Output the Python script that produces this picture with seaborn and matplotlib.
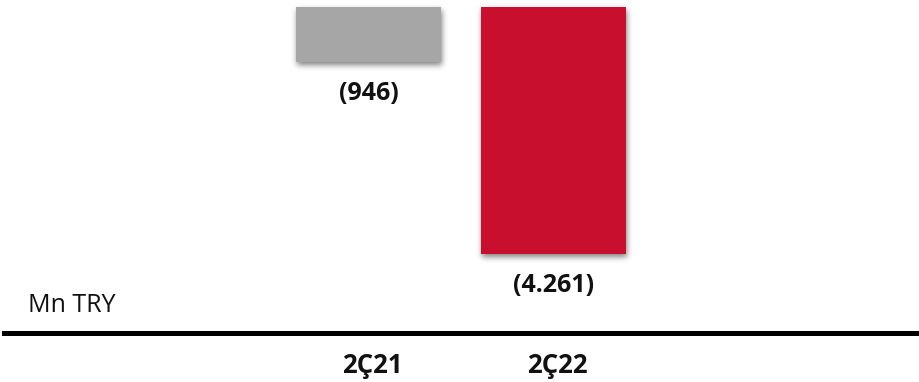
import numpy as np
import pandas as pd
import matplotlib
matplotlib.use("Agg")
import matplotlib.pyplot as plt
import matplotlib.transforms as mtransforms
import seaborn as sns

# Net result per period (million TRY)
periods = ["2Ç21", "2Ç22"]
values = [-946, -4261]
bar_colors = ["#A6A6A6", "#C8102E"]
unit_label = "Mn TRY"

sns.set_theme(style="white")
plt.rcParams["font.family"] = ["Open Sans", "DejaVu Sans"]

W, H, DPI = 919, 382, 100
fig = plt.figure(figsize=(W / DPI, H / DPI), dpi=DPI)
fig.patch.set_facecolor("white")
ax = fig.add_axes([4 / W, 49 / H, 915 / W, 326 / H])
ax.patch.set_visible(False)

df = pd.DataFrame({"period": periods, "value": values})
sns.barplot(data=df, x="period", y="value", hue="period", palette=bar_colors,
            width=0.786, saturation=1, legend=False, ax=ax, edgecolor="none")

ax.set_ylim(-5624, 0)
ax.set_xlim(-1.978, 2.981)
ax.set_xlabel("")
ax.set_ylabel("")
ax.set_yticks([])
ax.set_xticks([])
for side in ("left", "top", "right"):
    ax.spines[side].set_visible(False)
ax.spines["bottom"].set_linewidth(3.6)
ax.spines["bottom"].set_color("black")


def fmt(v):
    s = f"{abs(v):,}".replace(",", ".")
    return f"({s})" if v < 0 else s


# Value labels under each bar end
for i, v in enumerate(values):
    ax.annotate(fmt(v), xy=(i, v), xytext=(0, -22.5), textcoords="offset points",
                ha="center", va="center", fontsize=18, fontweight="bold",
                color="#111111")

# Period labels below the baseline rule
trans = mtransforms.blended_transform_factory(ax.transData, fig.transFigure)
for i, p in enumerate(periods):
    ax.text(i + 0.02, (H - 373) / H, p, transform=trans, ha="center",
            va="baseline", fontsize=18.5, fontweight="bold", color="#111111")

fig.text(28 / W, (H - 312) / H, unit_label, ha="left", va="baseline",
         fontsize=18, color="#111111")

# Soft drop shadow behind the bars
fig.canvas.draw()
mask = np.zeros((H, W))
for patch in ax.patches:
    bb = patch.get_window_extent()
    x0, x1 = int(round(bb.x0)) + 1, int(round(bb.x1)) + 1
    r0, r1 = int(round(H - bb.y1)) + 3, int(round(H - bb.y0)) + 3
    mask[max(r0, 0):min(r1, H), max(x0, 0):min(x1, W)] = 1.0

sigma = 3.0
k = np.arange(-10, 11)
kern = np.exp(-0.5 * (k / sigma) ** 2)
kern /= kern.sum()
blur = np.apply_along_axis(lambda r: np.convolve(r, kern, mode="same"), 1, mask)
blur = np.apply_along_axis(lambda c: np.convolve(c, kern, mode="same"), 0, blur)
shadow = np.zeros((H, W, 4))
shadow[..., 3] = blur * 0.5
fig.figimage(shadow, xo=0, yo=0, origin="upper", zorder=-1)

fig.savefig("out.png", dpi=DPI, facecolor="white")
